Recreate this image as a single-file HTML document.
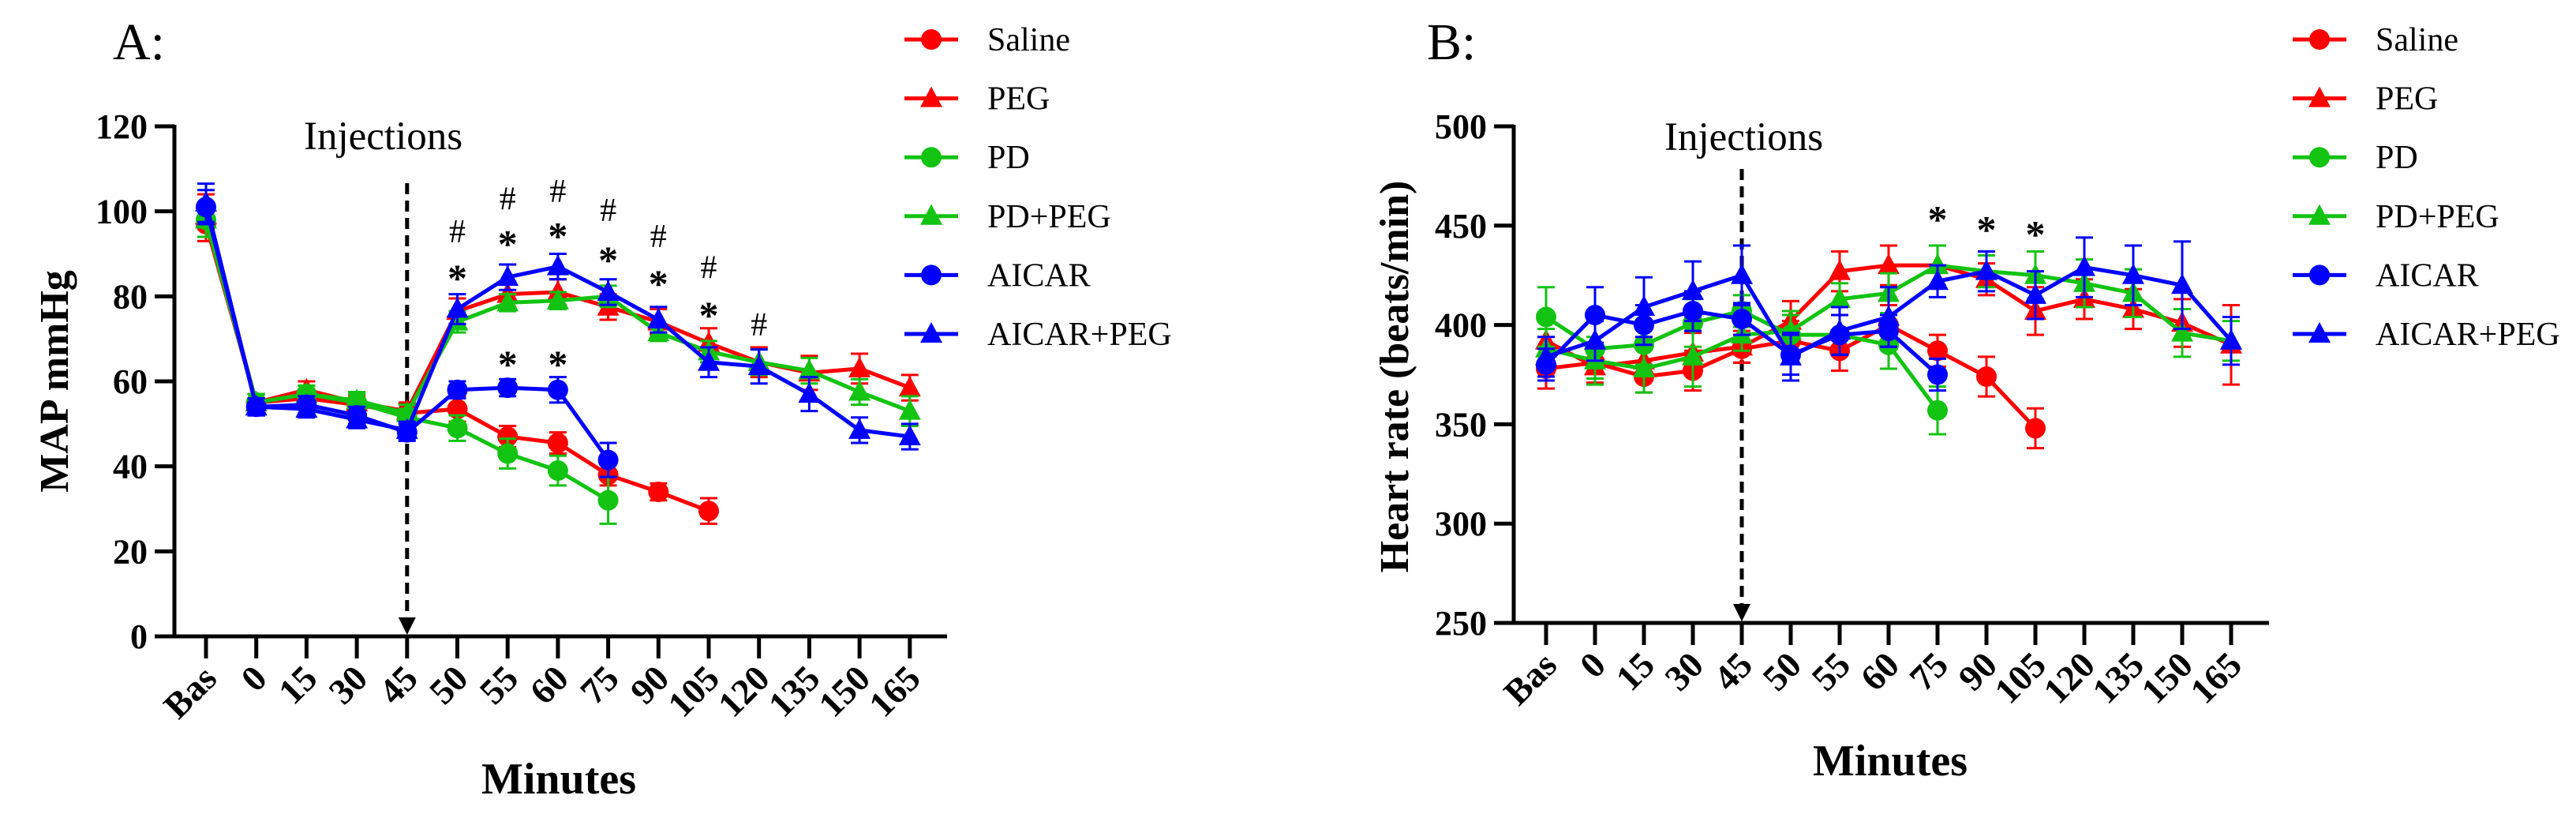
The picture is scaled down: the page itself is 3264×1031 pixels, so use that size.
<!DOCTYPE html>
<html><head><meta charset="utf-8"><style>
html,body{margin:0;padding:0;background:#fff;width:3264px;height:1031px;overflow:hidden}
svg{display:block;font-family:"Liberation Serif",serif}
</style></head><body>
<svg id="svg" width="3264" height="1031" viewBox="0 0 3264 1031"></svg>
<script>
const categories = ["Bas","0","15","30","45","50","55","60","75","90","105","120","135","150","165"];
const seriesNames = ["Saline","PEG","PD","PD+PEG","AICAR","AICAR+PEG"];
// Panel A: MAP mmHg
const mapSaline = [97,55,56,54.5,52.5,53.5,47,45.5,38,34,29.5];
const mapPEG = [99,55,58,55,53,76.5,80.5,81,77.5,74,69,64.5,62,63,58.5];
const mapPD = [98,55,57,55,51.5,49,43,39,32];
const mapPDPEG = [98,55,57,55.5,52.5,74,78.5,79,80,71.5,67,64.5,62.5,57.5,53];
const mapAICAR = [101,54,54.5,52,48,58,58.5,58,41.5];
const mapAICARPEG = [102,54,53.5,51,48.5,77,84.5,87,81,74.5,64.5,63.5,57,48.5,47];
const mapErrSaline = [4,2,2,2,2,3,2.5,2.5,2.5,2,3];
const mapErrPEG = [5,2,2,2,2,3,3,3,3,3,3.5,3.5,4,3.5,3];
const mapErrPD = [4,2,2,2,2,3,3.5,3.5,5.5];
const mapErrPDPEG = [4,2,2,2,2,2.5,2,2,2.5,2,2.5,3,3,3,3.5];
const mapErrAICAR = [4,2,2,2,2,2,2,3,4];
const mapErrAICARPEG = [4.5,2,2,2,2,3.5,3,3,3,3,3.5,4,4,3,3];
const mapTicks = [0,20,40,60,80,100,120];
const mapHashCats = ["50","55","60","75","90","105","120"];
const mapHashVals = [95.3,103,104.8,100.3,94.2,86.8,73.4];
const mapStarCats = ["50","55","60","75","90","105","55","60"];
const mapStarVals = [85.6,93.7,95.6,89.9,84.3,76.9,65.4,65.4];
// Panel B: Heart rate
const hrSaline = [378,381,374,377,388,392,387,400,387,374,348];
const hrPEG = [392,379,382,386,389,402,427,430,430,423,407,413,408,401,390];
const hrPD = [404,388,390,401,407,395,395,390,357];
const hrPDPEG = [388,382,378,384,395,397,413,416,430,427,425,421,416,396,392];
const hrAICAR = [380,405,400,407,403,385,395,397,375];
const hrAICARPEG = [384,392,409,417,425,384,397,404,422,427,415,429,425,420,392];
const hrErrSaline = [10,8,8,10,7,10,10,10,8,10,10];
const hrErrPEG = [12,8,10,10,8,10,10,10,10,8,12,10,10,12,20];
const hrErrPD = [15,15,10,12,8,10,10,12,12];
const hrErrPDPEG = [10,12,12,15,8,10,8,10,10,8,12,12,12,12,10];
const hrErrAICAR = [8,14,10,10,8,10,10,8,8];
const hrErrAICARPEG = [10,10,15,15,15,12,12,15,8,10,12,15,15,22,12];
const hrTicks = [250,300,350,400,450,500];
const hrStarCats = ["75","90","105"];
const hrStarVals = [456,451,448.5];

const NS="http://www.w3.org/2000/svg";
const svg=document.getElementById('svg');
const colors=["#ff0000","#ff0000","#12c312","#12c312","#0000ff","#0000ff"];
const shapes=["circle","tri","circle","tri","circle","tri"];
function el(tag,attrs,parent,text){const e=document.createElementNS(NS,tag);for(const k in attrs)e.setAttribute(k,attrs[k]);if(text!==undefined)e.textContent=text;(parent||svg).appendChild(e);return e;}

function marker(g,shape,x,y,c){
  let m;
  if(shape==="circle"){m=el('circle',{cx:x,cy:y,r:13,fill:c},g);}
  else{m=el('polygon',{points:`${x},${y-15} ${x-14},${y+11} ${x+14},${y+11}`,fill:c},g);}
  return m;
}

function panel(cfg){
  const g=el('g',{});
  
  
  const xs=i=>cfg.x0+i*cfg.dx;
  const ys=v=>cfg.yBot-(v-cfg.vmin)/(cfg.vmax-cfg.vmin)*(cfg.yBot-cfg.yTop);
  const t=el('text',{x:cfg.letterX,y:75,'font-size':66},g,cfg.letter);
  
  const ya=el('line',{x1:cfg.axX,y1:cfg.yTop-2,x2:cfg.axX,y2:cfg.yBot+2,stroke:'#000','stroke-width':5},g);
  
  const xa=el('line',{x1:cfg.axX-25,y1:cfg.yBot,x2:cfg.xEnd,y2:cfg.yBot,stroke:'#000','stroke-width':5},g);
  
  cfg.ticks.forEach(v=>{
    const y=ys(v);
    el('line',{x1:cfg.axX-25,y1:y,x2:cfg.axX,y2:y,stroke:'#000','stroke-width':5},g);
    const tl=el('text',{x:cfg.axX-34,y:y+15,'font-size':44,'font-weight':'bold','text-anchor':'end'},g,String(v));
    
  });
  categories.forEach((c,i)=>{
    const x=xs(i);
    el('line',{x1:x,y1:cfg.yBot,x2:x,y2:cfg.yBot+28,stroke:'#000','stroke-width':5},g);
    const ax=x+16, ay=cfg.yBot+56;
    const tl=el('text',{x:ax,y:ay,'font-size':46,'font-weight':'bold','text-anchor':'end',transform:`rotate(-45 ${ax} ${ay})`},g,c);
    
  });
  const yt=el('text',{x:cfg.ytX,y:cfg.ytY,'font-size':52,'font-weight':'bold','text-anchor':'middle',transform:`rotate(-90 ${cfg.ytX} ${cfg.ytY})`},g,cfg.yTitle);
  
  const xt=el('text',{x:cfg.xtX,y:cfg.xtY,'font-size':56,'font-weight':'bold','text-anchor':'middle'},g,'Minutes');
  
  const ix=xs(categories.indexOf("45"));
  const it=el('text',{x:cfg.injX,y:cfg.injY,'font-size':51},g,'Injections');
  
  const dl=el('line',{x1:ix,y1:cfg.dashTop,x2:ix,y2:cfg.yBot-20,stroke:'#000','stroke-width':5,'stroke-dasharray':'14 8'},g);
  
  el('polygon',{points:`${ix-11},${cfg.yBot-24} ${ix+11},${cfg.yBot-24} ${ix},${cfg.yBot-2}`,fill:'#000'},g);
  cfg.data.forEach((arr,s)=>{
    const sg=el('g',{},g);
    
    
    const err=cfg.errs[s];const c=colors[s];
    arr.forEach((v,i)=>{
      const x=xs(i),y1=ys(v+err[i]),y2=ys(v-err[i]);
      el('line',{x1:x,y1:y1,x2:x,y2:y2,stroke:c,'stroke-width':3},sg);
      el('line',{x1:x-11,y1:y1,x2:x+11,y2:y1,stroke:c,'stroke-width':3},sg);
      el('line',{x1:x-11,y1:y2,x2:x+11,y2:y2,stroke:c,'stroke-width':3},sg);
    });
    const pts=arr.map((v,i)=>xs(i)+','+ys(v)).join(' ');
    const pl=el('polyline',{points:pts,fill:'none',stroke:c,'stroke-width':5,'stroke-linejoin':'round'},sg);
    
    
    arr.forEach((v,i)=>{
      const m=marker(sg,shapes[s],xs(i),ys(v),c);
      
      
    });
  });
  cfg.hashCats.forEach((c,i)=>{
    const x=xs(categories.indexOf(c));
    const a=el('text',{x:x,y:ys(cfg.hashVals[i])+14,'font-size':42,'text-anchor':'middle'},g,'#');
    
  });
  cfg.starCats.forEach((c,i)=>{
    const x=xs(categories.indexOf(c));
    const a=el('text',{x:x,y:ys(cfg.starVals[i])+24,'font-size':50,'font-weight':'bold','text-anchor':'middle'},g,'*');
    
  });
  const lg=el('g',{},g);
  
  seriesNames.forEach((n,s)=>{
    const y=50+s*74.6;
    const eg=el('g',{},lg);
    
    el('line',{x1:cfg.legX,y1:y,x2:cfg.legX+68,y2:y,stroke:colors[s],'stroke-width':5},eg);
    marker(eg,shapes[s],cfg.legX+34,y,colors[s]);
    el('text',{x:cfg.legX+105,y:y+14,'font-size':42},eg,n);
  });
}

panel({key:'map',letter:'A:',letterX:143,x0:261,dx:63.7,axX:221,xEnd:1200,yTop:160,yBot:806,vmin:0,vmax:120,
  ticks:mapTicks,yTitle:'MAP mmHg',ytX:86,ytY:483,xtX:708,xtY:1005,injX:385,injY:189,dashTop:232,
  data:[mapSaline,mapPEG,mapPD,mapPDPEG,mapAICAR,mapAICARPEG],
  errs:[mapErrSaline,mapErrPEG,mapErrPD,mapErrPDPEG,mapErrAICAR,mapErrAICARPEG],
  hashCats:mapHashCats,hashVals:mapHashVals,starCats:mapStarCats,starVals:mapStarVals,legX:1146});
panel({key:'hr',letter:'B:',letterX:1808,x0:1959,dx:62,axX:1918,xEnd:2875,yTop:160,yBot:789,vmin:250,vmax:500,
  ticks:hrTicks,yTitle:'Heart rate (beats/min)',ytX:1784,ytY:477,xtX:2395,xtY:982,injX:2109,injY:190,dashTop:214,
  data:[hrSaline,hrPEG,hrPD,hrPDPEG,hrAICAR,hrAICARPEG],
  errs:[hrErrSaline,hrErrPEG,hrErrPD,hrErrPDPEG,hrErrAICAR,hrErrAICARPEG],
  hashCats:[],hashVals:[],starCats:hrStarCats,starVals:hrStarVals,legX:2905});
</script>
</body></html>
